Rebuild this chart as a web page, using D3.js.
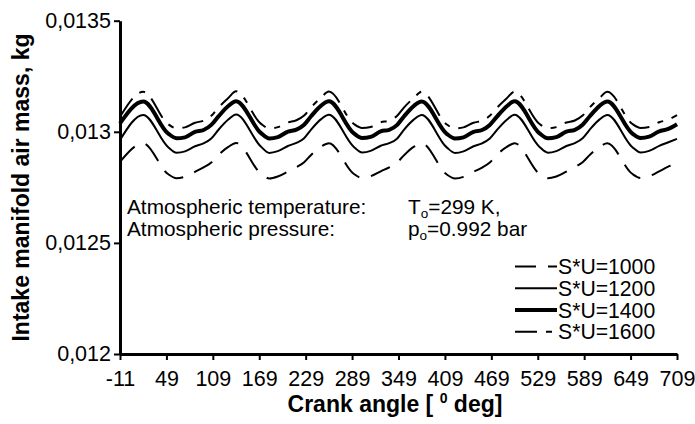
<!DOCTYPE html>
<html>
<head>
<meta charset="utf-8">
<script src="https://cdn.jsdelivr.net/npm/d3@7"></script>
<style>
  html, body { margin: 0; padding: 0; background: #fff; }
  svg { display: block; font-family: "Liberation Sans", Arial, sans-serif; }
</style>
</head>
<body>
<svg id="chart" width="695" height="424"></svg>
<script>
// ---- data ----
const angles = [
  -11,
  19, 51, 62, 73, 86, 97, 107, 116, 129,
  139, 171, 182, 193, 206, 217, 227, 236, 249,
  259, 291, 302, 313, 326, 337, 347, 356, 369,
  379, 411, 422, 433, 446, 457, 467, 476, 489,
  499, 531, 542, 553, 566, 577, 587, 596, 609,
  619, 651, 662, 673, 686, 697, 709
];

const su1000 = [
  0.012865,
  0.012948, 0.012810, 0.012791, 0.012798, 0.012820, 0.012840, 0.012862, 0.012895, 0.012932,
  0.012950, 0.012812, 0.012790, 0.012799, 0.012821, 0.012841, 0.012863, 0.012896, 0.012934,
  0.012949, 0.012811, 0.012792, 0.012800, 0.012822, 0.012840, 0.012861, 0.012894, 0.012933,
  0.012948, 0.012809, 0.012790, 0.012797, 0.012820, 0.012839, 0.012862, 0.012896, 0.012932,
  0.012949, 0.012811, 0.012791, 0.012799, 0.012821, 0.012841, 0.012863, 0.012895, 0.012933,
  0.012948, 0.012811, 0.012792, 0.012800, 0.012822, 0.012842, 0.012858
];

const su1200 = [
  0.012963,
  0.013076, 0.012932, 0.012906, 0.012912, 0.012935, 0.012948, 0.012970, 0.013008, 0.013055,
  0.013078, 0.012934, 0.012905, 0.012913, 0.012936, 0.012950, 0.012971, 0.013010, 0.013057,
  0.013077, 0.012933, 0.012907, 0.012914, 0.012937, 0.012949, 0.012969, 0.013009, 0.013056,
  0.013076, 0.012931, 0.012905, 0.012912, 0.012935, 0.012948, 0.012970, 0.013007, 0.013054,
  0.013077, 0.012933, 0.012906, 0.012913, 0.012936, 0.012949, 0.012971, 0.013009, 0.013056,
  0.013076, 0.012932, 0.012907, 0.012914, 0.012937, 0.012952, 0.012968
];

const su1400 = [
  0.013038,
  0.013136, 0.012993, 0.012971, 0.012975, 0.013000, 0.013008, 0.013031, 0.013068, 0.013116,
  0.013138, 0.012995, 0.012970, 0.012976, 0.013001, 0.013010, 0.013032, 0.013070, 0.013118,
  0.013137, 0.012994, 0.012972, 0.012977, 0.013002, 0.013009, 0.013030, 0.013069, 0.013117,
  0.013136, 0.012992, 0.012970, 0.012975, 0.013000, 0.013008, 0.013031, 0.013067, 0.013115,
  0.013137, 0.012994, 0.012971, 0.012976, 0.013001, 0.013009, 0.013032, 0.013069, 0.013117,
  0.013136, 0.012993, 0.012972, 0.012978, 0.013002, 0.013012, 0.013034
];

const su1600 = [
  0.013068,
  0.013180, 0.013035, 0.013016, 0.013020, 0.013041, 0.013050, 0.013072, 0.013108, 0.013152,
  0.013182, 0.013037, 0.013015, 0.013021, 0.013042, 0.013052, 0.013073, 0.013110, 0.013154,
  0.013181, 0.013036, 0.013017, 0.013022, 0.013043, 0.013051, 0.013071, 0.013109, 0.013153,
  0.013180, 0.013034, 0.013015, 0.013020, 0.013041, 0.013050, 0.013072, 0.013107, 0.013151,
  0.013181, 0.013036, 0.013016, 0.013021, 0.013042, 0.013051, 0.013073, 0.013109, 0.013153,
  0.013180, 0.013036, 0.013017, 0.013022, 0.013043, 0.013054, 0.013075
];

const seriesNames = ["S*U=1000", "S*U=1200", "S*U=1400", "S*U=1600"];
const xTickValues = [-11, 49, 109, 169, 229, 289, 349, 409, 469, 529, 589, 649, 709];
const yTickValues = [0.012, 0.0125, 0.013, 0.0135];
const yTickLabels = ["0,012", "0,0125", "0,013", "0,0135"];

// ---- styles ----
const styles = [
  { width: 2, dash: "21,12" },
  { width: 2, dash: null },
  { width: 4, dash: null },
  { width: 2, dash: "22,9,6,9" }
];

const svg = d3.select("#chart");
const x = d3.scaleLinear().domain([-11, 709]).range([120, 677]);
const y = d3.scaleLinear().domain([0.012, 0.0135]).range([354, 20.7]);

const FS = 20.8;

// curves
const seriesData = [su1000, su1200, su1400, su1600];
const line = d3.line()
  .x((d, i) => x(angles[i]))
  .y(d => y(d))
  .curve(d3.curveMonotoneX);

seriesData.forEach((vals, k) => {
  svg.append("path")
    .attr("d", line(vals))
    .attr("fill", "none")
    .attr("stroke", "#000")
    .attr("stroke-width", styles[k].width)
    .attr("stroke-linejoin", "round")
    .attr("stroke-dasharray", styles[k].dash);
});

// axes
const yAxis = d3.axisLeft(y).tickValues(yTickValues)
  .tickFormat((d, i) => yTickLabels[i]).tickSize(6).tickSizeOuter(0).tickPadding(3);
const xAxis = d3.axisBottom(x).tickValues(xTickValues)
  .tickFormat(d => String(d)).tickSize(6).tickSizeOuter(0).tickPadding(11);

const gy = svg.append("g").attr("transform", "translate(120,0)").call(yAxis);
const gx = svg.append("g").attr("transform", "translate(0,354)").call(xAxis);

[gx, gy].forEach(g => {
  g.select(".domain").attr("stroke", "#000").attr("stroke-width", 3);
  g.selectAll(".tick line").attr("stroke", "#000").attr("stroke-width", 2);
  g.selectAll(".tick text").attr("fill", "#000")
    .attr("font-family", "Liberation Sans, Arial, sans-serif")
    .attr("font-size", 21.5);
});

// axis titles
svg.append("text")
  .attr("x", 395).attr("y", 412)
  .attr("text-anchor", "middle")
  .attr("font-weight", "bold").attr("font-size", 23)
  .call(t => {
    t.append("tspan").text("Crank angle [ ");
    t.append("tspan").attr("font-size", 14).attr("dy", -9).text("0");
    t.append("tspan").attr("dy", 9).text(" deg]");
  });

svg.append("text")
  .attr("transform", "translate(28.5,187.5) rotate(-90)")
  .attr("text-anchor", "middle")
  .attr("font-weight", "bold").attr("font-size", 23)
  .text("Intake manifold air mass, kg");

// annotation
svg.append("text").attr("x", 127).attr("y", 214).attr("font-size", FS)
  .text("Atmospheric temperature:");
svg.append("text").attr("x", 127).attr("y", 236).attr("font-size", FS)
  .text("Atmospheric pressure:");

svg.append("text").attr("x", 408).attr("y", 214).attr("font-size", FS)
  .call(t => {
    t.append("tspan").text("T");
    t.append("tspan").attr("font-size", 13.5).attr("dy", 4).text("o");
    t.append("tspan").attr("dy", -4).text("=299 K,");
  });
svg.append("text").attr("x", 408).attr("y", 236).attr("font-size", FS)
  .call(t => {
    t.append("tspan").text("p");
    t.append("tspan").attr("font-size", 13.5).attr("dy", 4).text("o");
    t.append("tspan").attr("dy", -4).text("=0.992 bar");
  });

// legend
const legendY = [266.5, 288.3, 310, 331.7];
seriesNames.forEach((name, k) => {
  const g = svg.append("g");
  g.append("line")
    .attr("x1", 515).attr("x2", 557)
    .attr("y1", legendY[k]).attr("y2", legendY[k])
    .attr("stroke", "#000")
    .attr("stroke-width", styles[k].width)
    .attr("stroke-dasharray", styles[k].dash);
  g.append("text")
    .attr("x", 558).attr("y", legendY[k] + 7.5)
    .attr("font-size", 21.2)
    .text(name);
});
</script>
</body>
</html>
